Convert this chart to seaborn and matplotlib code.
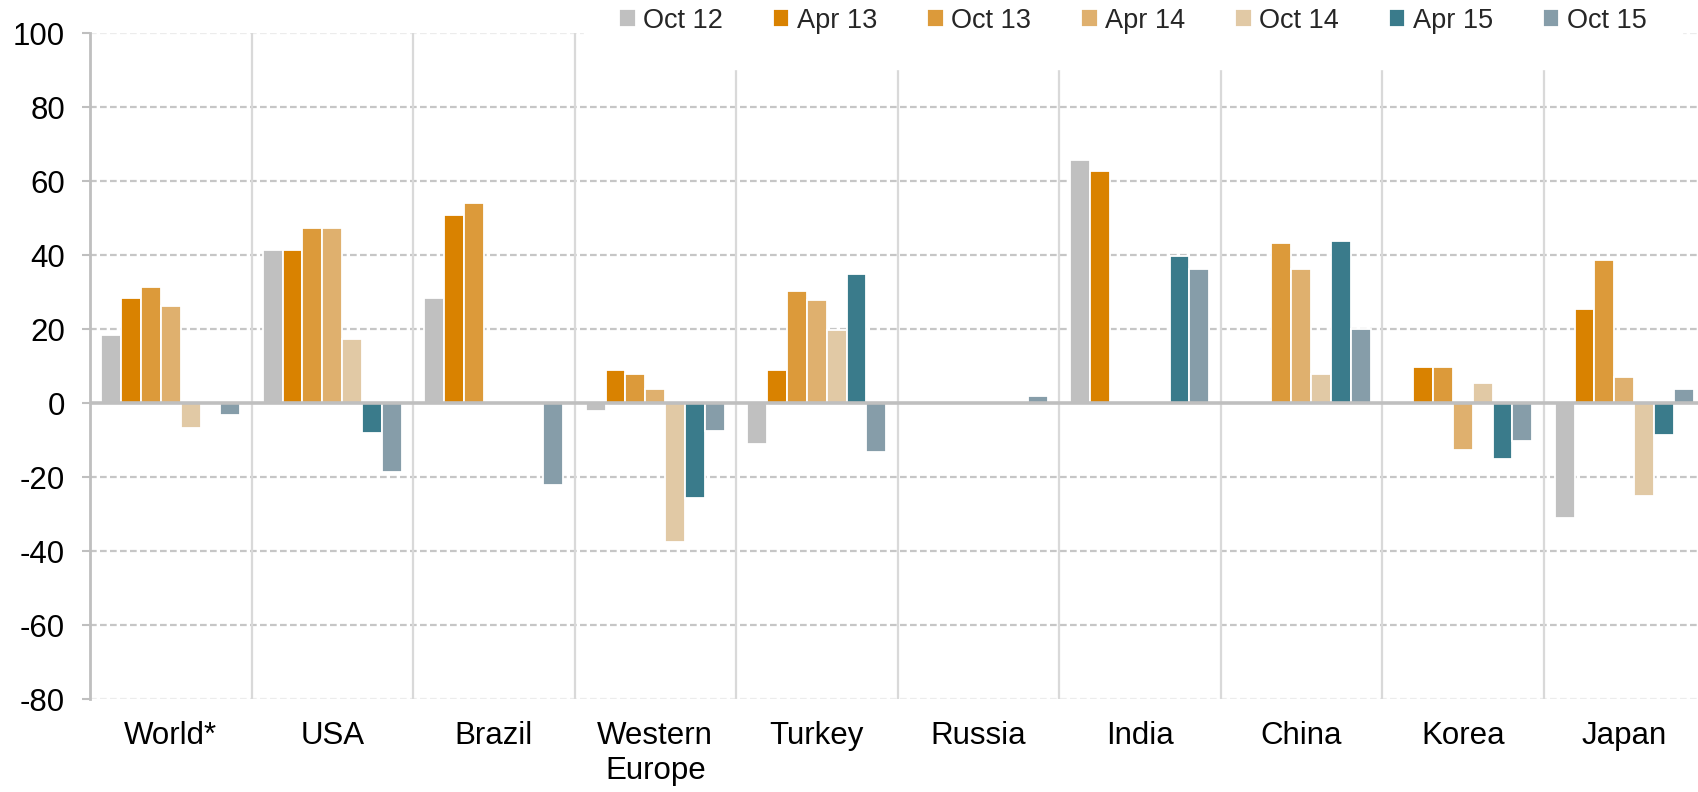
import numpy as np
import pandas as pd
import matplotlib
matplotlib.use('Agg')
import matplotlib.pyplot as plt
import seaborn as sns

regions = ['World*', 'USA', 'Brazil', 'Western\nEurope', 'Turkey', 'Russia', 'India', 'China', 'Korea', 'Japan']
periods = ['Oct 12', 'Apr 13', 'Oct 13', 'Apr 14', 'Oct 14', 'Apr 15', 'Oct 15']
colors = ['#c0c0c0', '#d98200', '#dc9a3a', '#dfb06e', '#e1c9a5', '#3a7b8b', '#869da9']

# one list per period, values follow the regions order
oct12 = [18.5, 41.5, 28.5, -2.0, -10.9, 0, 65.7, 0, 0, -30.9]
apr13 = [28.5, 41.5, 51.0, 9.0, 9.0, 0, 62.8, 0, 9.7, 25.5]
oct13 = [31.5, 47.4, 54.0, 7.9, 30.3, 0, 0, 43.3, 9.7, 38.6]
apr14 = [26.3, 47.4, 0, 3.8, 28.0, 0, 0, 36.3, -12.6, 7.2]
oct14 = [-6.8, 17.3, 0, -37.4, 19.8, 0, 0, 7.9, 5.5, -25.1]
apr15 = [0, -8.0, 0, -25.6, 35.0, 0, 39.8, 43.9, -15.1, -8.5]
oct15 = [-3.2, -18.5, -22.0, -7.4, -13.3, 1.9, 36.3, 20.2, -10.3, 3.8]
series = [oct12, apr13, oct13, apr14, oct14, apr15, oct15]

df = pd.DataFrame({
    'region': np.tile(regions, len(periods)),
    'period': np.repeat(periods, len(regions)),
    'value': np.concatenate(series),
})

sns.set_style('white')
plt.rcParams['font.family'] = ['Liberation Sans', 'DejaVu Sans']
plt.rcParams['axes.unicode_minus'] = False

fig = plt.figure(figsize=(16.99, 7.92), dpi=100)
ax = fig.add_axes([90 / 1699, 0.1171, 1615 / 1699, 0.8409])

# grid first so bars sit on top
for y in range(-60, 100, 20):
    if y != 0:
        ax.axhline(y, color='#c6c6c6', lw=1.6, ls=(0, (3, 1.5)), zorder=0)
for y in (-80, 100):
    ax.axhline(y, color='#ececec', lw=1.6, ls=(0, (3, 1.5)), zorder=0)
ax.vlines(np.arange(len(regions) - 1) + 0.5, -80, 100, color='#d9d9d9', lw=1.6, zorder=0.5)

sns.barplot(data=df, x='region', y='value', hue='period', palette=colors,
            hue_order=periods, order=regions, width=0.86, saturation=1,
            edgecolor='white', linewidth=1.3, errorbar=None, ax=ax, zorder=2)

ax.axhline(0, color='#bfbfbf', lw=2.6, zorder=3)

ax.set_xlim(-0.5, len(regions) - 0.5)
ax.set_ylim(-80, 100)
ax.set_yticks(range(-80, 101, 20))
ax.set_xlabel('')
ax.set_ylabel('')
for s in ('top', 'right', 'bottom'):
    ax.spines[s].set_visible(False)
ax.spines['left'].set_color('#bfbfbf')
ax.spines['left'].set_linewidth(2)
ax.tick_params(axis='y', which='both', left=True, length=6, width=1.5, color='#bfbfbf',
               pad=12, labelsize=22.5, labelcolor='black')
ax.tick_params(axis='x', length=0, pad=16, labelsize=22.5, labelcolor='black')

handles, labels = ax.get_legend_handles_labels()
ax.legend(handles, labels, ncol=7, loc='center right', bbox_to_anchor=(0.99, 0.974),
          bbox_transform=fig.transFigure, fontsize=19.5, frameon=True, facecolor='white',
          edgecolor='white', framealpha=1, fancybox=False, borderpad=1.3, borderaxespad=0,
          handlelength=0.6, handleheight=0.6, handletextpad=0.28, columnspacing=1.85)

fig.savefig('out.png', dpi=100)
